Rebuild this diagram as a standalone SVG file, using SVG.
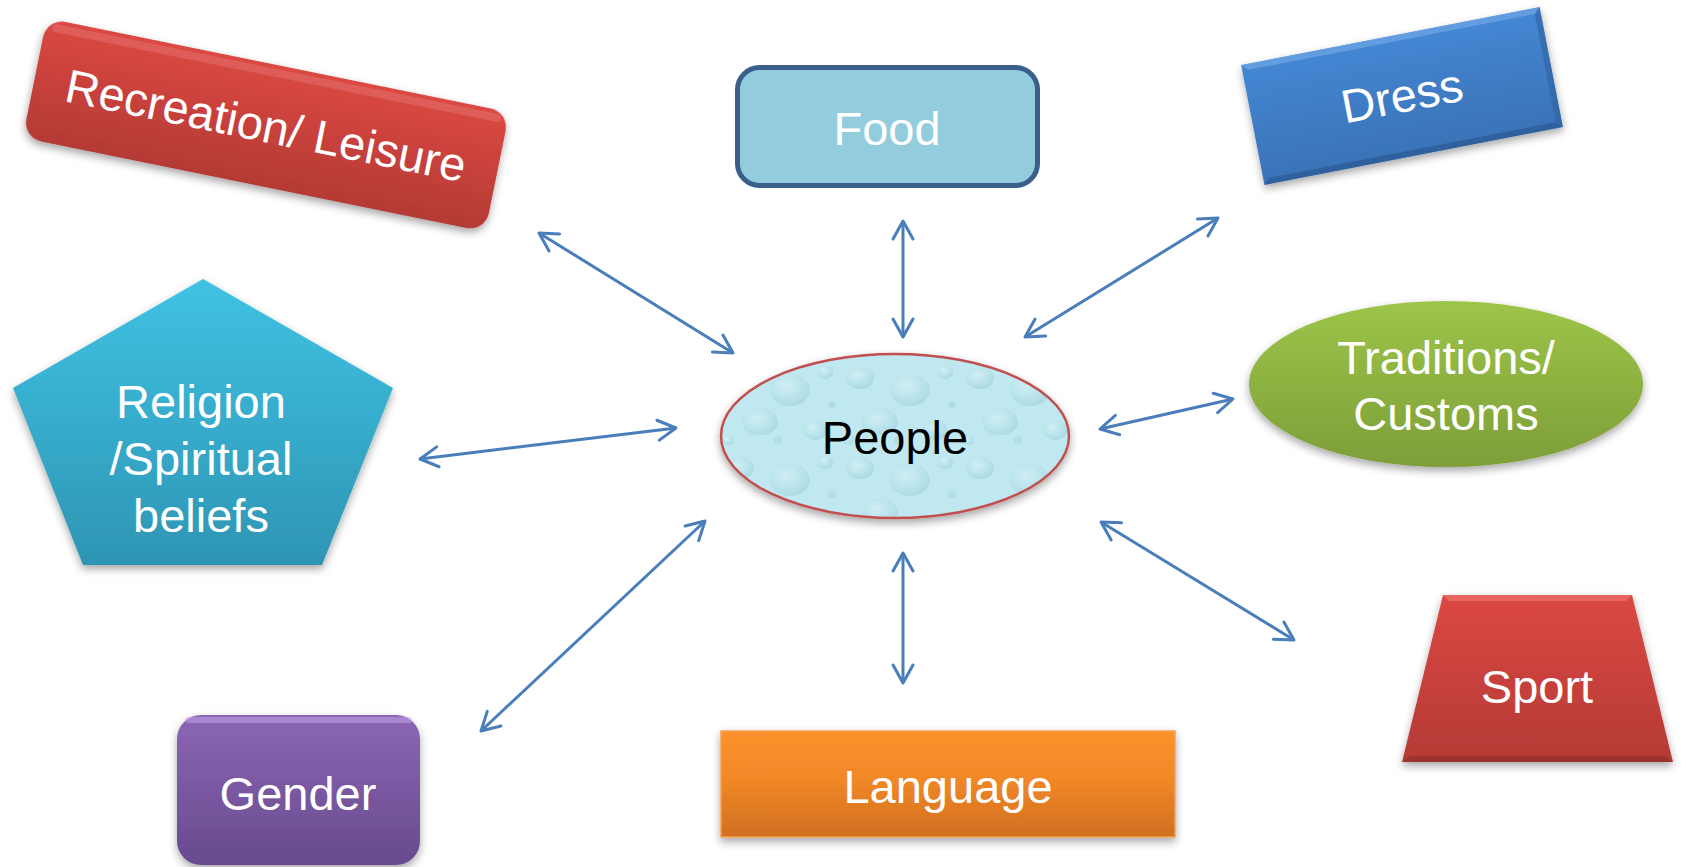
<svg xmlns="http://www.w3.org/2000/svg" width="1681" height="867" viewBox="0 0 1681 867">
<style>
.lbl{font-family:"Liberation Sans",Arial,sans-serif;font-size:47px;fill:#ffffff;text-anchor:middle}
.dark{fill:#000000}
.conn line{stroke:#4A7EBB;stroke-width:3;fill:none;marker-start:url(#ah);marker-end:url(#ah)}
</style>
<defs>
<marker id="ah" markerUnits="userSpaceOnUse" markerWidth="26" markerHeight="26" viewBox="0 0 26 26" refX="21" refY="13" orient="auto-start-reverse">
<path d="M3,3 L21,13 L3,23" fill="none" stroke="#4A7EBB" stroke-width="3" stroke-linecap="round" stroke-linejoin="round"/>
</marker>
<filter id="sh" x="-10%" y="-10%" width="120%" height="130%">
<feDropShadow dx="0" dy="4" stdDeviation="4" flood-color="#000" flood-opacity="0.35"/>
</filter>
<linearGradient id="gRed" x1="0" y1="0" x2="0" y2="1"><stop offset="0" stop-color="#DC4843"/><stop offset="1" stop-color="#B43A35"/></linearGradient>
<linearGradient id="gBlue" x1="0" y1="0" x2="0" y2="1"><stop offset="0" stop-color="#4487D4"/><stop offset="1" stop-color="#3A72B6"/></linearGradient>
<linearGradient id="gCyan" x1="0" y1="0" x2="0" y2="1"><stop offset="0" stop-color="#40C2E4"/><stop offset="1" stop-color="#2E95B3"/></linearGradient>
<linearGradient id="gGreen" x1="0" y1="0" x2="0" y2="1"><stop offset="0" stop-color="#9DC549"/><stop offset="1" stop-color="#7D9E39"/></linearGradient>
<linearGradient id="gPurple" x1="0" y1="0" x2="0" y2="1"><stop offset="0" stop-color="#8B66B4"/><stop offset="1" stop-color="#684A8E"/></linearGradient>
<linearGradient id="gOrange" x1="0" y1="0" x2="0" y2="1"><stop offset="0" stop-color="#FC922D"/><stop offset="0.45" stop-color="#F18828"/><stop offset="1" stop-color="#D06F1F"/></linearGradient>
<radialGradient id="drop" cx="0.4" cy="0.35" r="0.65"><stop offset="0" stop-color="#DDF3F7"/><stop offset="0.6" stop-color="#B6E1EA"/><stop offset="1" stop-color="#9CCFDB"/></radialGradient>
<pattern id="water" patternUnits="userSpaceOnUse" width="120" height="90">
<rect width="120" height="90" fill="#C0E8F0"/>
<ellipse cx="20" cy="18" rx="14" ry="11" fill="url(#drop)" opacity="0.6"/>
<ellipse cx="70" cy="30" rx="20" ry="16" fill="url(#drop)" opacity="0.55"/>
<ellipse cx="105" cy="12" rx="8" ry="7" fill="url(#drop)" opacity="0.6"/>
<ellipse cx="40" cy="62" rx="18" ry="13" fill="url(#drop)" opacity="0.55"/>
<ellipse cx="95" cy="70" rx="12" ry="10" fill="url(#drop)" opacity="0.6"/>
<ellipse cx="8" cy="80" rx="6" ry="5" fill="url(#drop)" opacity="0.6"/>
<circle cx="58" cy="80" r="4" fill="#ADDAE4" opacity="0.7"/>
<circle cx="112" cy="45" r="4" fill="#ADDAE4" opacity="0.7"/>
</pattern>
</defs>

<g id="connectors" class="conn">
<line x1="539" y1="233" x2="733" y2="353"/>
<line x1="903" y1="221" x2="903" y2="337"/>
<line x1="1218" y1="218" x2="1025" y2="337"/>
<line x1="1233" y1="399" x2="1100" y2="429"/>
<line x1="420" y1="459" x2="676" y2="428"/>
<line x1="481" y1="731" x2="705" y2="521"/>
<line x1="903" y1="553" x2="903" y2="683"/>
<line x1="1101" y1="522" x2="1294" y2="640"/>
</g>

<g id="recreation" transform="translate(266,125) rotate(11.5)">
<rect x="-236" y="-61" width="472" height="122" rx="19" fill="url(#gRed)" filter="url(#sh)"/>
<rect x="-229" y="-57" width="458" height="8" rx="4" fill="#ffffff" opacity="0.12"/>
<text class="lbl" x="0" y="17">Recreation/ Leisure</text>
</g>

<g id="food">
<rect x="737.5" y="67.5" width="300" height="118" rx="22" fill="#93CDDD" stroke="#3A5F8B" stroke-width="5"/>
<text class="lbl" x="887" y="145">Food</text>
</g>

<g id="dress" transform="translate(1402,96) rotate(-11)">
<rect x="-152" y="-61" width="304" height="122" fill="url(#gBlue)" filter="url(#sh)"/>
<polygon points="-152,-61 152,-61 146,-55 -146,-55" fill="#6AA3E4" opacity="0.8"/>
<polygon points="-152,61 152,61 146,55 -146,55" fill="#2C5C96" opacity="0.8"/>
<polygon points="152,-61 152,61 146,55 146,-55" fill="#31639F" opacity="0.6"/>
<text class="lbl" x="0" y="16">Dress</text>
</g>

<g id="religion">
<polygon points="203,279 393,388 322,565 83,565 13,388" fill="url(#gCyan)" filter="url(#sh)"/>
<text class="lbl" x="201" y="418">Religion</text>
<text class="lbl" x="201" y="475">/Spiritual</text>
<text class="lbl" x="201" y="532">beliefs</text>
</g>

<g id="people">
<ellipse cx="895" cy="436" rx="174" ry="82" fill="url(#water)" stroke="#C0504D" stroke-width="2.5" filter="url(#sh)"/>
<text class="lbl dark" x="895" y="454">People</text>
</g>

<g id="traditions">
<ellipse cx="1446" cy="384" rx="197" ry="83" fill="url(#gGreen)" filter="url(#sh)"/>
<text class="lbl" x="1446" y="374">Traditions/</text>
<text class="lbl" x="1446" y="430">Customs</text>
</g>

<g id="sport">
<polygon points="1443,595 1632,595 1673,762 1402,762" fill="url(#gRed)" filter="url(#sh)"/>
<polygon points="1443,595 1632,595 1626,601 1449,601" fill="#EE7470" opacity="0.7"/>
<polygon points="1402,762 1673,762 1665,756 1410,756" fill="#93302B" opacity="0.7"/>
<text class="lbl" x="1537" y="703">Sport</text>
</g>

<g id="gender">
<rect x="177" y="715" width="243" height="150" rx="24" fill="url(#gPurple)" filter="url(#sh)"/>
<rect x="185" y="717" width="227" height="6" rx="3" fill="#C9A8EE" opacity="0.5"/>
<text class="lbl" x="298" y="810">Gender</text>
</g>

<g id="language">
<rect x="721" y="731" width="454" height="106" fill="url(#gOrange)" stroke="#F6A055" stroke-width="1.5" filter="url(#sh)"/>
<text class="lbl" x="948" y="803">Language</text>
</g>
</svg>
